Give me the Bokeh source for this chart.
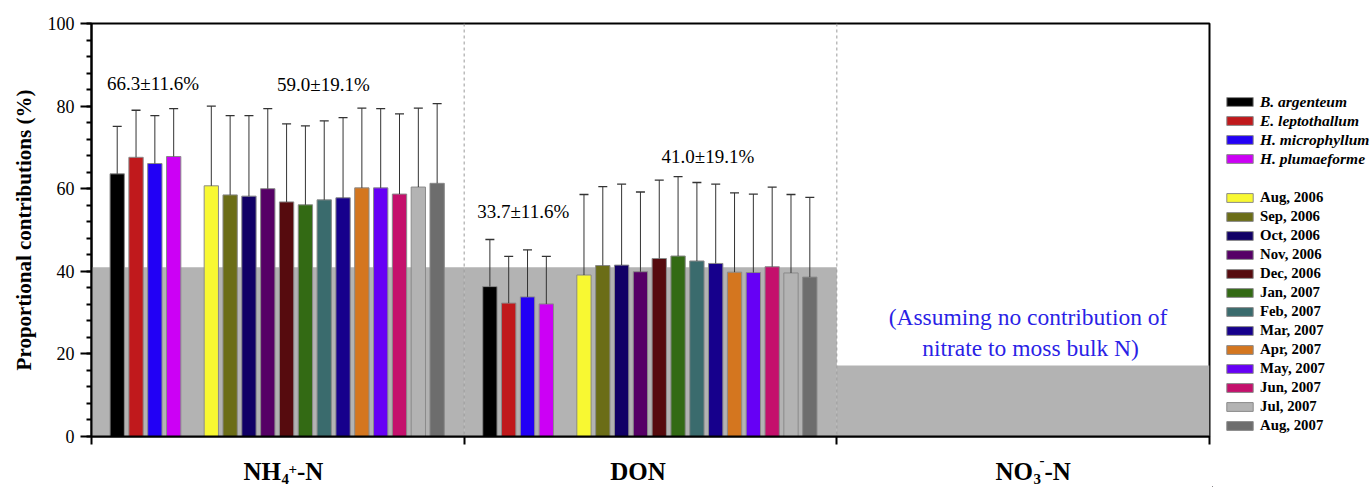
from bokeh.plotting import figure
from bokeh.layouts import row, column
from bokeh.models import (Range1d, FixedTicker, Span, Legend, LegendItem,
                          ColumnDataSource, Whisker, TeeHead, SingleIntervalTicker)
from bokeh.core.properties import value
from bokeh.embed import file_html
from bokeh.resources import INLINE

# ---------------- data ----------------
group_main = ["NH", "DON", "NO"]
group_sub = ["4", "", "3"]
group_sup = ["+", "", "-"]
group_tail = ["-N", "", "-N"]
species = ["B. argenteum", "E. leptothallum", "H. microphyllum", "H. plumaeforme"]
months = ["Aug, 2006", "Sep, 2006", "Oct, 2006", "Nov, 2006", "Dec, 2006", "Jan, 2007",
          "Feb, 2007", "Mar, 2007", "Apr, 2007", "May, 2007", "Jun, 2007", "Jul, 2007",
          "Aug, 2007"]
nh4_mean = [63.6, 67.6, 66.1, 67.8, 60.7, 58.5, 58.2, 60.0, 56.8, 56.1, 57.3, 57.8,
            60.2, 60.2, 58.7, 60.4, 61.3]
nh4_err = [11.5, 11.4, 11.6, 11.6, 19.3, 19.2, 19.5, 19.4, 18.9, 19.1, 19.1, 19.4,
           19.3, 19.2, 19.4, 19.1, 19.3]
don_mean = [36.3, 32.3, 33.8, 32.1, 39.1, 41.4, 41.5, 39.9, 43.1, 43.7, 42.5, 41.9,
            39.8, 39.7, 41.1, 39.6, 38.6]
don_err = [11.4, 11.3, 11.4, 11.5, 19.5, 19.1, 19.6, 19.3, 19.0, 19.2, 19.0, 19.2,
           19.2, 19.0, 19.3, 19.0, 19.3]
overall_level = [41.0, 41.0, 17.2]   # grey background level per N source
summary_labels = ["66.3\u00b111.6%", "59.0\u00b119.1%", "33.7\u00b111.6%", "41.0\u00b119.1%"]
note_lines = ["(Assuming no contribution of", "nitrate to moss bulk N)"]

colors = ["#000000", "#c0191c", "#2200f5", "#cc00f5",
          "#f8f832", "#6b6d17", "#110066", "#560066", "#560b0e", "#336a14",
          "#3a6b6d", "#16008c", "#d4761f", "#6600f5", "#c4106c", "#b3b3b3", "#6d6d6d"]

# ---------------- layout constants ----------------
FONT = "Liberation Serif"
W_MAIN = 1212
FL, FR, FT, FB = 91, 1209, 23, 436     # frame edges in canvas px
H_MAIN = 451
PXX = (FR - FL) / 3.0
PXY = (FB - FT) / 100.0
OFF, STEP, BW = 0.069, 0.0505, 0.0384
BASE_FIX = 0.37   # em shift between requested and drawn alphabetic baseline


def dx(px):
    return (px - FL) / PXX


def dy(py):
    return (FB - py) / PXY


p = figure(width=W_MAIN, height=H_MAIN, output_backend="svg", toolbar_location=None,
           x_range=Range1d(0, 3), y_range=Range1d(0, 100),
           min_border_left=FL, min_border_right=W_MAIN - FR, min_border_top=FT,
           min_border_bottom=H_MAIN - FB)
p.xgrid.visible = False
p.ygrid.visible = False
p.outline_line_color = "black"
p.outline_line_width = 2
p.background_fill_color = "white"

# grey background per source
p.quad(left=[0, 1, 2], right=[1, 2, 3], bottom=[0, 0, 0], top=overall_level,
       fill_color="#b3b3b3", line_color=None)

# bars
all_names = species + months
wx, wl, wu = [], [], []
for i, name in enumerate(all_names):
    slot = i if i < 4 else i + 1
    xs = [0 + OFF + slot * STEP, 1 + OFF + slot * STEP]
    tops = [nh4_mean[i], don_mean[i]]
    errs = [nh4_err[i], don_err[i]]
    src = ColumnDataSource(dict(x=xs, top=tops))
    p.vbar(x="x", top="top", bottom=0, width=BW, source=src,
           fill_color=colors[i], line_color="#8a8a8a", line_width=1)
    for x, t, e in zip(xs, tops, errs):
        wx.append(x)
        wl.append(t)
        wu.append(t + e)

wsrc = ColumnDataSource(dict(base=wx, lower=wl, upper=wu))
p.add_layout(Whisker(source=wsrc, base="base", lower="lower", upper="upper",
                     dimension="height", line_color="#333333", line_width=1,
                     upper_head=TeeHead(size=9, line_color="#333333", line_width=1.3),
                     lower_head=None, level="annotation"))

# dividers
for loc in [1, 2]:
    p.add_layout(Span(location=loc, dimension="height", line_color="#9a9a9a",
                      line_dash="3 3", line_width=1))

# axes
p.xaxis.ticker = FixedTicker(ticks=[0, 1, 2, 3])
p.xaxis.major_label_overrides = {0: "", 1: "", 2: "", 3: ""}
p.xaxis.major_label_text_font_size = "0px"
p.xaxis.major_label_text_color = None
p.xaxis.major_label_standoff = 0
p.xaxis.major_tick_out = 8
p.xaxis.major_tick_in = 0
p.xaxis.minor_tick_line_color = None
p.xaxis.axis_line_width = 2
p.xaxis.major_tick_line_width = 2

p.yaxis.ticker = SingleIntervalTicker(interval=20, num_minor_ticks=5)
p.yaxis.major_tick_out = 11
p.yaxis.major_tick_in = 0
p.yaxis.minor_tick_out = 5
p.yaxis.minor_tick_in = 0
p.yaxis.axis_line_width = 2
p.yaxis.major_tick_line_width = 2
p.yaxis.minor_tick_line_width = 2
p.yaxis.major_label_text_font = FONT
p.yaxis.major_label_text_font_size = "18px"
p.yaxis.major_label_text_color = "black"
p.yaxis.major_label_standoff = 6
p.yaxis.axis_label = "Proportional contributions (%)"
p.yaxis.axis_label_text_font = FONT
p.yaxis.axis_label_text_font_size = "21px"
p.yaxis.axis_label_text_font_style = "bold"
p.yaxis.axis_label_text_color = "black"
p.yaxis.axis_label_standoff = 9


def txt(fig, xs, pys, conv, texts, size, style="normal", color="black", align="left"):
    ys = [conv(py - BASE_FIX * size) for py in pys]
    fig.text(x=xs, y=ys, text=texts, text_font=value(FONT),
             text_font_size=value(f"{size}px"), text_font_style=style,
             text_color=color, text_align=align, text_baseline="alphabetic")


# summary texts (positions in canvas px converted to data)
txt(p, [dx(152.5), dx(323), dx(522.7), dx(707.5)],
    [90, 90.7, 218.3, 163.3], dy, summary_labels, 19, align="center")
txt(p, [dx(1027.5), dx(1030)], [325, 356], dy, note_lines, 23.5,
    color="#2b1fe6", align="center")

# ---------------- category label strip ----------------
H_LAB = 487 - H_MAIN
pl = figure(width=W_MAIN, height=H_LAB, output_backend="svg", toolbar_location=None,
            x_range=p.x_range, y_range=Range1d(0, H_LAB),
            min_border_left=FL, min_border_right=W_MAIN - FR, min_border_top=0,
            min_border_bottom=0, x_axis_location=None, y_axis_location=None)
pl.outline_line_color = None
pl.xgrid.visible = False
pl.ygrid.visible = False


def ly(py):
    return 487 - py


txt(pl, [dx(243)], [480], ly, group_main[:1], 25, "bold")
txt(pl, [dx(637.5)], [480], ly, group_main[1:2], 25, "bold", align="center")
txt(pl, [dx(995)], [480], ly, group_main[2:], 25, "bold")
txt(pl, [dx(281), dx(1033)], [484.5, 484.5], ly, [group_sub[0], group_sub[2]], 15, "bold")
txt(pl, [dx(288)], [474], ly, [group_sup[0]], 15, "bold")
txt(pl, [dx(1039)], [465], ly, [group_sup[2]], 15, "bold")
txt(pl, [dx(296.5), dx(1044)], [480, 480], ly, [group_tail[0], group_tail[2]], 25, "bold")

lab_col = column(p, pl, spacing=0)

# ---------------- legend panel ----------------
W_LEG = 1371 - W_MAIN
pg = figure(width=W_LEG, height=487, output_backend="svg", toolbar_location=None,
            x_range=Range1d(0, W_LEG), y_range=Range1d(0, 487),
            min_border_left=0, min_border_right=0, min_border_top=0, min_border_bottom=0,
            x_axis_location=None, y_axis_location=None)
pg.outline_line_color = None
pg.xgrid.visible = False
pg.ygrid.visible = False
dummies = [pg.vbar(x=[-1000], top=[1], width=1, fill_color=c, line_color="#8a8a8a",
                   line_width=1) for c in colors]

LH, LS = 18, 1
common = dict(border_line_color=None, background_fill_alpha=0, padding=0, margin=0,
              spacing=LS, glyph_width=33, glyph_height=11, label_standoff=4,
              label_height=LH, label_text_font=FONT, label_text_color="black")
LX = int(round(1222.7 - W_MAIN))
top1, top2 = 101.7 - LH / 2, 197.7 - LH / 2
bot1 = top1 + 4 * LH + 3 * LS
bot2 = top2 + 13 * LH + 12 * LS
leg1 = Legend(items=[LegendItem(label=s, renderers=[dummies[i]]) for i, s in enumerate(species)],
              location=(LX, 487 - bot1), label_text_font_style="bold italic",
              label_text_font_size="15.5px", **common)
leg2 = Legend(items=[LegendItem(label=m, renderers=[dummies[4 + i]]) for i, m in enumerate(months)],
              location=(LX, 487 - bot2), label_text_font_style="bold",
              label_text_font_size="14.8px", **common)
pg.add_layout(leg1)
pg.add_layout(leg2)

layout = row(lab_col, pg, spacing=0)
open("out.html", "w").write(file_html(layout, INLINE))
